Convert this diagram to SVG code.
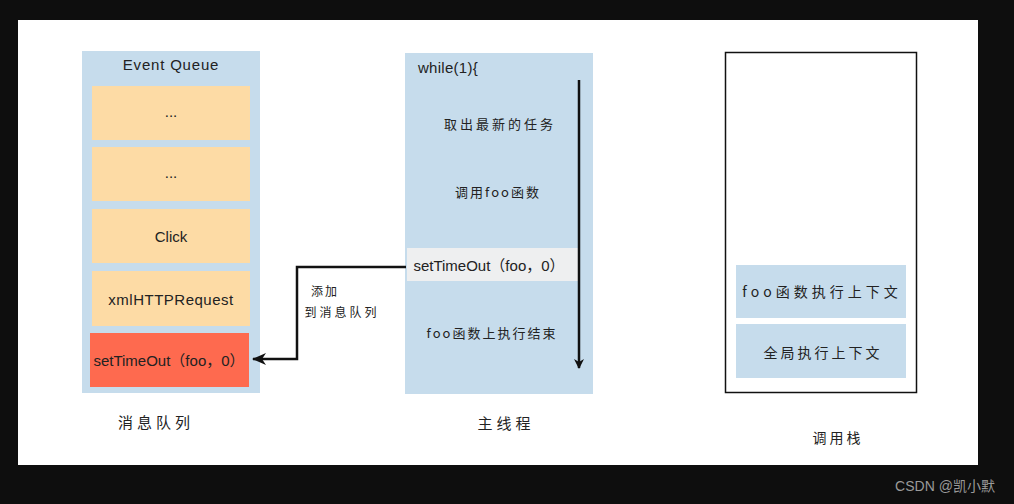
<svg xmlns="http://www.w3.org/2000/svg" width="1014" height="504" viewBox="0 0 1014 504">
<defs>
<style>
.t{font-family:"Liberation Sans","Noto Sans CJK SC",sans-serif;fill:#222;text-anchor:middle}
.cn{font-family:"Noto Sans CJK SC",sans-serif;fill:#222;text-anchor:middle}
.panel{fill:#c6dcec}
.q{fill:#fddba5}
.conn{fill:none;stroke:#111;stroke-width:2.5}
</style>
<marker id="ah" markerWidth="10" markerHeight="10" refX="9" refY="5" orient="auto" markerUnits="userSpaceOnUse">
<path d="M0,0 L10,5 L0,10 L3,5 Z" fill="#111"/>
</marker>
<marker id="ah2" markerWidth="14" markerHeight="12" refX="13" refY="6" orient="auto" markerUnits="userSpaceOnUse">
<path d="M0,0 L14,6 L0,12 L4,6 Z" fill="#111"/>
</marker>
</defs>
<rect x="0" y="0" width="1014" height="504" fill="#0e0e0e"/>
<rect x="18" y="20" width="960" height="445" fill="#ffffff"/>

<g id="event-queue">
<rect class="panel" x="82" y="51" width="178" height="342"/>
<text class="t" x="171" y="70" font-size="15" letter-spacing="0.8">Event Queue</text>
<rect class="q" x="92" y="86" width="158" height="54"/>
<text class="t" x="171" y="117" font-size="15">...</text>
<rect class="q" x="92" y="147" width="158" height="54"/>
<text class="t" x="171" y="178" font-size="15">...</text>
<rect class="q" x="92" y="209" width="158" height="54"/>
<text class="t" x="171" y="242" font-size="15">Click</text>
<rect class="q" x="92" y="271" width="158" height="55"/>
<text class="t" x="171" y="305" font-size="15" letter-spacing="0.5">xmlHTTPRequest</text>
<rect x="90" y="333" width="159" height="54" fill="#fe6a4f"/>
<text class="t" x="169" y="366" font-size="15">setTimeOut（foo，0）</text>
</g>
<text class="cn" x="156" y="428" font-size="15" letter-spacing="4">消息队列</text>

<g id="main-thread">
<rect class="panel" x="405" y="53" width="188" height="341"/>
<text class="t" x="448" y="73" font-size="15" letter-spacing="0.3">while(1){</text>
<text class="cn" x="500" y="129" font-size="13" letter-spacing="3">取出最新的任务</text>
<text class="cn" x="498" y="197" font-size="13" letter-spacing="2">调用foo函数</text>
<rect x="407" y="248" width="173" height="33" fill="#eeeff0"/>
<text class="t" x="489" y="271" font-size="15">setTimeOut（foo，0）</text>
<text class="cn" x="492" y="338" font-size="13" letter-spacing="2">foo函数上执行结束</text>
</g>
<text class="cn" x="506" y="429" font-size="15" letter-spacing="4">主线程</text>

<g id="call-stack">
<rect x="725.5" y="52.5" width="191" height="340" fill="#ffffff" stroke="#111" stroke-width="1.5"/>
<rect class="panel" x="736" y="265" width="170" height="53"/>
<text class="cn" x="822" y="297" font-size="14" letter-spacing="4">foo函数执行上下文</text>
<rect class="panel" x="736" y="324" width="170" height="54"/>
<text class="cn" x="823" y="358" font-size="14" letter-spacing="3">全局执行上下文</text>
</g>
<text class="cn" x="838" y="443" font-size="14" letter-spacing="3">调用栈</text>

<g id="connectors">
<line class="conn" x1="579" y1="80" x2="579" y2="368" marker-end="url(#ah)"/>
<polyline class="conn" points="406,267 297,267 297,359 253,359" marker-end="url(#ah2)"/>
<text class="cn" x="325" y="296" font-size="12" letter-spacing="2">添加</text>
<text class="cn" x="342" y="317" font-size="12" letter-spacing="3">到消息队列</text>
</g>

<text x="945" y="491" font-family="Liberation Sans, Noto Sans CJK SC, sans-serif" font-size="14" fill="#9a9a9a" text-anchor="middle">CSDN @凯小默</text>
</svg>
